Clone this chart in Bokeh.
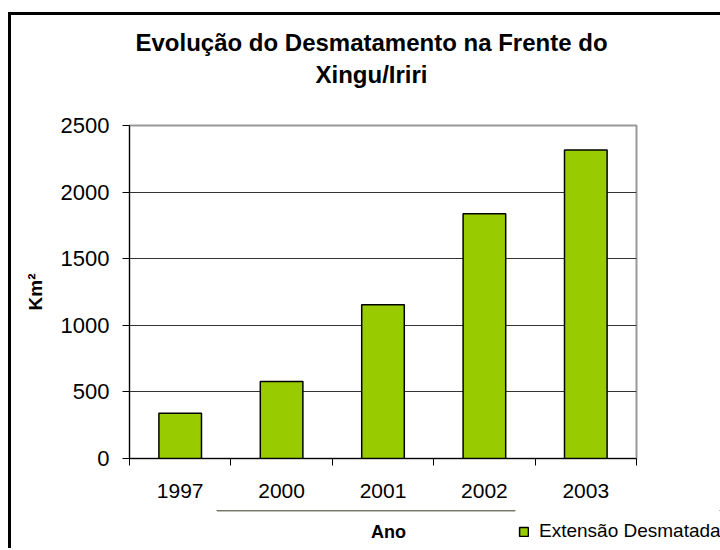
from bokeh.plotting import figure
from bokeh.layouts import column
from bokeh.models import (Range1d, LinearAxis, FixedTicker, Label,
                          Legend, LegendItem, ColumnDataSource)
from bokeh.embed import file_html
from bokeh.resources import INLINE

years = ["1997", "2000", "2001", "2002", "2003"]
area_km2 = [340, 578, 1154, 1837, 2317]
y_ticks = [0, 500, 1000, 1500, 2000, 2500]
title_lines = ["Evolução do Desmatamento na Frente do", "Xingu/Iriri"]
x_title = "Ano"
y_title = "Km²"
series_name = "Extensão Desmatada"

W = 709
H_HEAD, H_MAIN, H_FOOT = 95, 400, 38
FONT = "Liberation Sans"
BAR_FILL = "#99CC00"


def blank_fig(h, y_range=(0, 1)):
    f = figure(width=W, height=h, output_backend="svg", toolbar_location=None,
               x_axis_location=None, y_axis_location=None,
               x_range=Range1d(0, 1), y_range=Range1d(*y_range),
               min_border_left=0, min_border_right=0,
               min_border_top=0, min_border_bottom=0,
               frame_align=False)
    f.outline_line_color = None
    f.grid.visible = False
    f.background_fill_color = "white"
    f.border_fill_color = "white"
    return f


def lab(fig, text, x, y, size, bold=True, baseline="middle"):
    fig.add_layout(Label(x=x, y=y, x_units="screen", y_units="screen",
                         text=text, text_align="center", text_baseline=baseline,
                         text_font=FONT, text_font_size=size,
                         text_font_style="bold" if bold else "normal",
                         text_color="black"))


# ---- header: two-line title
head = blank_fig(H_HEAD)
lab(head, title_lines[0], 360, 68.5, "24px")
lab(head, title_lines[1], 360, 36.5, "24px")

# ---- main chart
centres = [i + 0.5 for i in range(len(years))]
src = ColumnDataSource(dict(x=centres, top=area_km2, year=years))

p = figure(width=W, height=H_MAIN, output_backend="svg", toolbar_location=None,
           x_range=Range1d(0, len(years)), y_range=Range1d(0, 2500),
           x_axis_location=None, y_axis_location=None,
           min_border_left=118, min_border_right=84,
           min_border_top=15, min_border_bottom=52)
p.background_fill_color = "white"
p.border_fill_color = "white"
p.outline_line_color = "#999999"
p.outline_line_width = 2

p.vbar(x="x", top="top", width=0.42, source=src, fill_color=BAR_FILL,
       line_color="black", line_width=1.5)

xaxis = LinearAxis(ticker=FixedTicker(ticks=centres,
                                      minor_ticks=list(range(len(years) + 1))),
                   major_label_overrides={c: y for c, y in zip(centres, years)})
xaxis.major_tick_line_color = None
xaxis.minor_tick_line_color = "black"
xaxis.minor_tick_out = 7
xaxis.minor_tick_in = 0
xaxis.axis_line_color = "black"
xaxis.major_label_standoff = 18
xaxis.major_label_text_font = FONT
xaxis.major_label_text_font_size = "21px"
xaxis.major_label_text_color = "black"
p.add_layout(xaxis, "below")

yaxis = LinearAxis(ticker=FixedTicker(ticks=y_ticks), axis_label=y_title)
yaxis.major_tick_out = 7
yaxis.major_tick_in = 0
yaxis.minor_tick_line_color = None
yaxis.axis_line_color = "black"
yaxis.major_tick_line_color = "black"
yaxis.major_label_standoff = 13
yaxis.major_label_text_font = FONT
yaxis.major_label_text_font_size = "22px"
yaxis.major_label_text_color = "black"
yaxis.axis_label_standoff = 12
yaxis.axis_label_text_font = FONT
yaxis.axis_label_text_font_size = "19px"
yaxis.axis_label_text_font_style = "bold"
yaxis.axis_label_text_color = "black"
p.add_layout(yaxis, "left")

p.xgrid.visible = False
p.ygrid.ticker = FixedTicker(ticks=[t for t in y_ticks if 0 < t < 2500])
p.ygrid.grid_line_color = "#333333"
p.ygrid.grid_line_width = 1

# ---- footer: x-axis title and legend (the series renderer here sits
# outside the footer's visible y-range; it only supplies the legend swatch)
foot = blank_fig(H_FOOT, y_range=(-2, -1))
lab(foot, x_title, 377, 17, "18px")
sw = foot.vbar(x="x", top="top", width=0.42, source=src, fill_color=BAR_FILL,
               line_color="black", line_width=1.5)
legend = Legend(items=[LegendItem(label=series_name, renderers=[sw])],
                location=(507, 6), orientation="horizontal",
                glyph_width=11, glyph_height=11, label_standoff=10,
                padding=0, margin=0, spacing=0,
                label_text_font=FONT, label_text_font_size="19px",
                label_text_color="black",
                border_line_color=None, background_fill_alpha=0)
foot.add_layout(legend, "center")

page = column(head, p, foot, spacing=0,
              styles={"border-left": "3px solid black",
                      "border-top": "3px solid black",
                      "margin-top": "12px", "margin-left": "8px"})

open("out.html", "w").write(file_html(page, INLINE))
